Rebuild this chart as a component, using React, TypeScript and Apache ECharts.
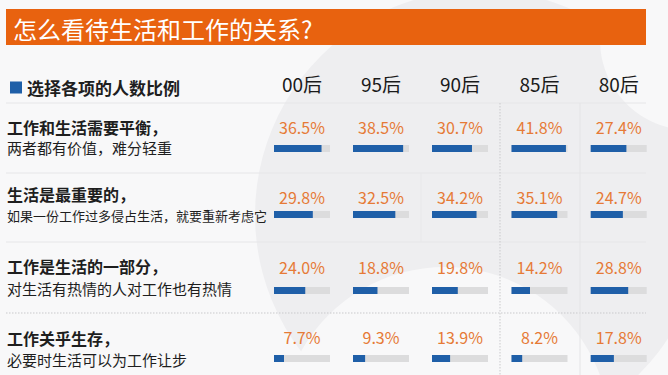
import React, { useEffect, useRef } from "react";
import * as echarts from "echarts";

const titleText = "怎么看待生活和工作的关系?";
const legendName = "选择各项的人数比例";
const generations = ["00后", "95后", "90后", "85后", "80后"];
const optionTitles = ["工作和生活需要平衡，", "生活是最重要的，", "工作是生活的一部分，", "工作关乎生存，"];
const optionNotes = [
  "两者都有价值，难分轻重",
  "如果一份工作过多侵占生活，就要重新考虑它",
  "对生活有热情的人对工作也有热情",
  "必要时生活可以为工作让步",
];
const share00 = [36.5, 29.8, 24.0, 7.7];
const share95 = [38.5, 32.5, 18.8, 9.3];
const share90 = [30.7, 34.2, 19.8, 13.9];
const share85 = [41.8, 35.1, 14.2, 8.2];
const share80 = [27.4, 24.7, 28.8, 17.8];
const shares = [share00, share95, share90, share85, share80];

const FONT = "'Noto Sans CJK SC', 'Noto Sans', sans-serif";
const colLeft = [274, 353, 432, 511.5, 590.7];
const colWidth = 56;
const barTop = [145, 211, 287, 355];
const barH = 7;
const titleY = [126.5, 194, 266, 337.5];
const noteY = [147.5, 215.5, 288, 359];
const noteSize = [15, 13, 15, 15];
const pctY = [127, 196.5, 266.5, 336.5];

export default function App() {
  const ref = useRef<HTMLDivElement>(null);
  useEffect(() => {
    if (!ref.current) return;
    const chart = echarts.init(ref.current, null, { renderer: "svg" });
    const grids: any[] = [];
    const xAxes: any[] = [];
    const yAxes: any[] = [];
    const series: any[] = [];
    const graphics: any[] = [];

    // background shapes
    graphics.push({ type: "circle", z: 0, shape: { cx: 480, cy: 215, r: 225 }, style: { fill: "#eeeef0" } });
    graphics.push({ type: "circle", z: 0, shape: { cx: 445, cy: 432, r: 165 }, style: { fill: "#f8f8f9" } });
    graphics.push({ type: "circle", z: 0, shape: { cx: 690, cy: 40, r: 90 }, style: { fill: "#f8f8f9" } });

    // header
    graphics.push({ type: "rect", z: 5, shape: { x: 6, y: 9, width: 640, height: 36 }, style: { fill: "#e8620f" } });
    graphics.push({
      type: "text", z: 6, x: 13, y: 28,
      style: { text: titleText, fill: "#ffffff", fontSize: 24, lineHeight: 26, fontFamily: FONT, verticalAlign: "middle", align: "left" },
    });

    // separators
    const hLines = [103, 173, 242];
    hLines.forEach((y) => {
      graphics.push({ type: "line", z: 1, shape: { x1: 6, y1: y, x2: 646, y2: y }, style: { stroke: "#e6e6e8", lineWidth: 1 } });
    });
    graphics.push({ type: "line", z: 1, shape: { x1: 6, y1: 313, x2: 646, y2: 313 }, style: { stroke: "#c9c9cc", lineWidth: 1, lineDash: [1.5, 1.5] } });
    graphics.push({ type: "line", z: 1, shape: { x1: 500, y1: 103, x2: 500, y2: 375 }, style: { stroke: "#c9c9cc", lineWidth: 1, lineDash: [1.5, 1.5] } });
    graphics.push({ type: "line", z: 1, shape: { x1: 580, y1: 103, x2: 580, y2: 375 }, style: { stroke: "#e4e4e6", lineWidth: 1 } });
    graphics.push({ type: "line", z: 1, shape: { x1: 421, y1: 173, x2: 421, y2: 242 }, style: { stroke: "#e8e8ea", lineWidth: 1 } });

    // column headers
    generations.forEach((g, c) => {
      graphics.push({
        type: "text", z: 6, x: colLeft[c] + colWidth / 2, y: 83,
        style: { text: g, fill: "#1a1a1a", fontSize: 19, lineHeight: 20, fontFamily: FONT, align: "center", verticalAlign: "middle" },
      });
    });

    // row labels
    optionTitles.forEach((t, r) => {
      graphics.push({
        type: "text", z: 6, x: 7, y: titleY[r],
        style: { text: t, fill: "#1e1e1e", fontSize: 16, lineHeight: 16, fontWeight: "bold", fontFamily: FONT, align: "left", verticalAlign: "middle" },
      });
      graphics.push({
        type: "text", z: 6, x: 7, y: noteY[r],
        style: { text: optionNotes[r], fill: "#1e1e1e", fontSize: noteSize[r], lineHeight: noteSize[r], fontFamily: FONT, align: "left", verticalAlign: "middle" },
      });
    });

    shares.forEach((vals, c) => {
      vals.forEach((v, r) => {
        const i = grids.length;
        grids.push({ left: colLeft[c], top: barTop[r], width: colWidth, height: barH, containLabel: false });
        xAxes.push({ type: "value", gridIndex: i, min: 0, max: 43, show: false });
        yAxes.push({ type: "category", gridIndex: i, data: [""], show: false });
        series.push({
          type: "bar", name: legendName, xAxisIndex: i, yAxisIndex: i, data: [v], barWidth: barH,
          showBackground: true, backgroundStyle: { color: "#dcdcdd" },
          itemStyle: { color: "#1f5fa8" }, silent: true,
        });
        graphics.push({
          type: "text", z: 6, x: colLeft[c] + colWidth / 2, y: pctY[r],
          style: { text: v.toFixed(1) + "%", fill: "#e67a36", fontSize: 16, lineHeight: 17, fontFamily: FONT, align: "center", verticalAlign: "middle" },
        });
      });
    });

    chart.setOption({
      animation: false,
      backgroundColor: "#f8f8f9",
      legend: {
        data: [{ name: legendName, icon: "rect" }],
        left: 5, top: 74, itemWidth: 12, itemHeight: 12, itemGap: 5,
        textStyle: { fontSize: 17, fontWeight: "bold", color: "#1e1e1e", fontFamily: FONT },
        selectedMode: false,
      },
      grid: grids,
      xAxis: xAxes,
      yAxis: yAxes,
      series,
      graphic: { elements: graphics },
    });
    return () => chart.dispose();
  }, []);
  return <div ref={ref} style={{ position: "fixed", left: 0, top: 0, width: 668, height: 375 }} />;
}
